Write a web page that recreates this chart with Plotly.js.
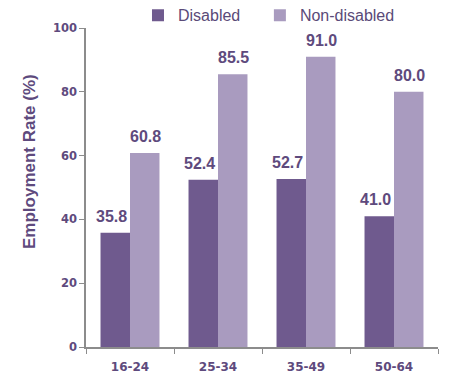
<!DOCTYPE html>
<html><head><meta charset="utf-8">
<script src="https://cdn.plot.ly/plotly-3.0.1.min.js"></script>
<style>body{margin:0;background:#fff}#c{width:452px;height:385px}</style>
</head><body><div id="c"></div>
<script>
const categories = ["16-24", "25-34", "35-49", "50-64"];
const disabled = [35.8, 52.4, 52.7, 41.0];
const nonDisabled = [60.8, 85.5, 91.0, 80.0];
const seriesNames = ["Disabled", "Non-disabled"];
const seriesColors = ["#6F5A8E", "#A99BBF"];
const yTitle = "Employment Rate (%)";
const textColor = "#5E4A7D";
const arial = "Liberation Sans, Arial, sans-serif";
const labelFont = {family: arial, size: 16, color: textColor, weight: "bold"};

const traces = [disabled, nonDisabled].map((vals, i) => ({
  type: "bar", name: seriesNames[i], x: categories, y: vals,
  marker: {color: seriesColors[i]}, hoverinfo: "skip",
  legend: i === 0 ? "legend" : "legend2"
}));

const LABEL_SHIFTS = [-19, 15];
const annotations = [];
[disabled, nonDisabled].forEach((vals, i) => {
  vals.forEach((v, j) => annotations.push({
    x: categories[j], y: v, xref: "x", yref: "y", text: v.toFixed(1),
    showarrow: false, yanchor: "bottom", xanchor: "center",
    xshift: LABEL_SHIFTS[i], yshift: 6, font: labelFont
  }));
});
annotations.push({
  xref: "paper", yref: "paper", x: -0.159, y: 0.58, text: yTitle, textangle: -90,
  showarrow: false, xanchor: "center", yanchor: "middle",
  font: {family: arial, size: 17, color: textColor, weight: "bold"}
});

const legendFont = {family: arial, size: 16, color: "#5A4A78"};
const layout = {
  width: 452, height: 385,
  margin: {l: 86, r: 14, t: 28, b: 38, autoexpand: false},
  paper_bgcolor: "#fff", plot_bgcolor: "#fff",
  barmode: "group", bargap: 0.33, bargroupgap: 0,
  showlegend: true,
  legend: {orientation: "h", x: 0.1477, xanchor: "left", y: 1.04, yanchor: "middle", font: legendFont, bgcolor: "rgba(0,0,0,0)"},
  legend2: {orientation: "h", x: 0.494, xanchor: "left", y: 1.04, yanchor: "middle", font: legendFont, bgcolor: "rgba(0,0,0,0)"},
  annotations: annotations,
  xaxis: {showline: true, linecolor: "#8C8C8C", linewidth: 1.5, ticks: "outside", tickson: "boundaries",
    ticklen: 5, tickcolor: "#8C8C8C", showgrid: false, automargin: false, ticklabelstandoff: 8,
    tickfont: {family: "DejaVu Sans, sans-serif", size: 12, color: textColor, weight: "bold"}},
  yaxis: {range: [0, 100], dtick: 20, showline: true, linecolor: "#8C8C8C", linewidth: 1.5,
    ticks: "outside", ticklen: 5, tickcolor: "#8C8C8C", showgrid: false, zeroline: false, automargin: false,
    tickfont: {family: "DejaVu Sans, sans-serif", size: 11.5, color: textColor, weight: "bold"}}
};
Plotly.newPlot("c", traces, layout, {displayModeBar: false});
</script></body></html>
